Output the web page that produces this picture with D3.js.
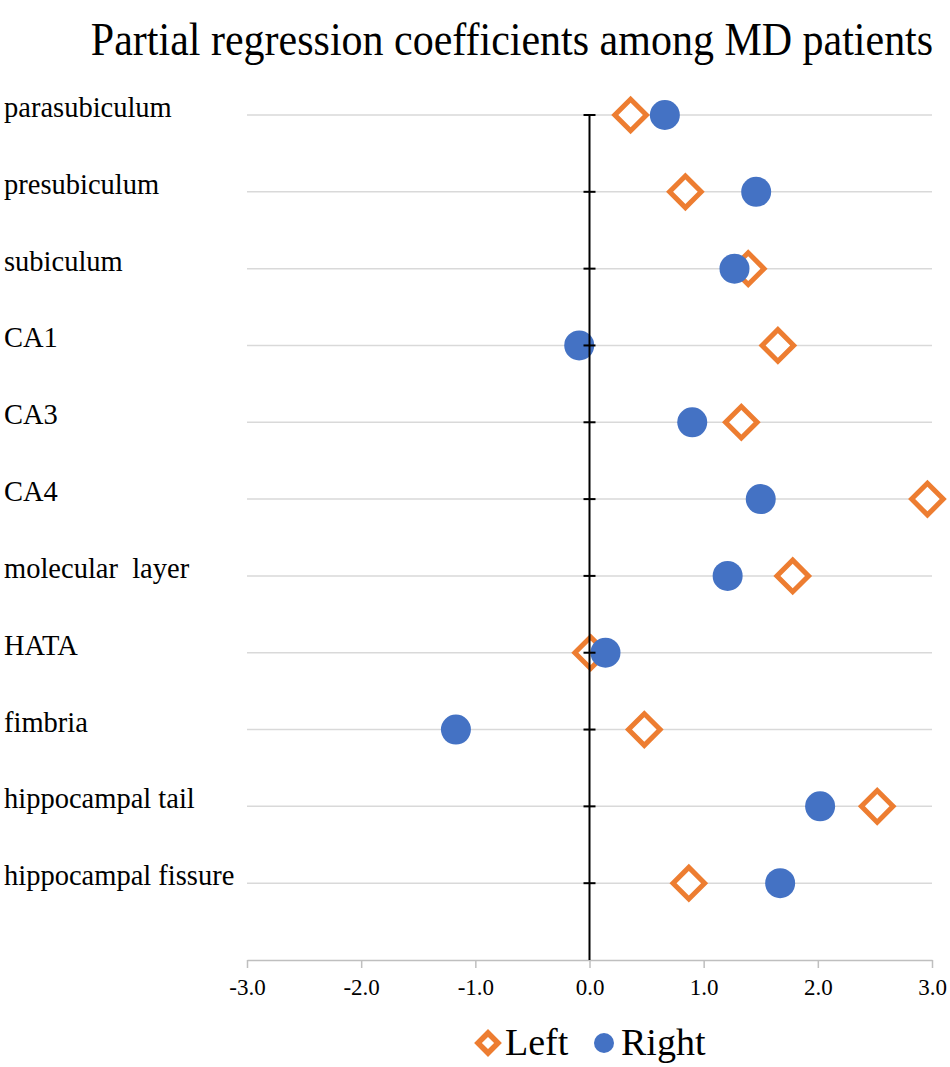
<!DOCTYPE html>
<html>
<head>
<meta charset="utf-8">
<script src="https://cdn.jsdelivr.net/npm/d3@7"></script>
<style>
  html, body { margin: 0; padding: 0; background: #fff; }
  svg { display: block; }
</style>
</head>
<body>
<svg id="chart" width="950" height="1067"></svg>
<script>
const categories = ["parasubiculum", "presubiculum", "subiculum", "CA1", "CA3", "CA4",
  "molecular  layer", "HATA", "fimbria", "hippocampal tail", "hippocampal fissure"];
const leftValues  = [0.36, 0.84, 1.39, 1.65, 1.33, 2.96, 1.78, 0.01, 0.48, 2.52, 0.87];
const rightValues = [0.66, 1.46, 1.27, -0.09, 0.90, 1.50, 1.21, 0.14, -1.17, 2.02, 1.67];
const xTicks = [-3, -2, -1, 0, 1, 2, 3];
const seriesNames = ["Left", "Right"];
const titleText = "Partial regression coefficients among MD patients";

const ORANGE = "#ED7D31", BLUE = "#4472C4";
const SERIF = "'Liberation Serif', 'Times New Roman', serif";
const svg = d3.select("#chart");

const x = d3.scaleLinear().domain([-3, 3]).range([247, 932]);
const n = categories.length;
const y = d3.scaleLinear().domain([0, n]).range([960, 115]);
const yPos = i => y(n - i);

// Title
svg.append("text")
  .attr("transform", "translate(512,55) scale(1,1.12)")
  .attr("text-anchor", "middle")
  .style("font-family", SERIF)
  .style("font-size", "42px")
  .attr("fill", "#000")
  .text(titleText);

// Gridlines
svg.append("g").selectAll("line").data(categories).join("line")
  .attr("x1", x(-3)).attr("x2", x(3))
  .attr("y1", (d, i) => yPos(i)).attr("y2", (d, i) => yPos(i))
  .attr("stroke", "#d9d9d9").attr("stroke-width", 1.5);

// Category labels
svg.append("g").selectAll("text").data(categories).join("text")
  .attr("x", 4).attr("y", (d, i) => yPos(i) + 2)
  .style("font-family", SERIF)
  .style("font-size", "28.5px")
  .style("white-space", "pre")
  .attr("fill", "#000")
  .text(d => d);

// X axis
const fmt = d => d3.format(".1f")(d).replace("\u2212", "-");
const xAxis = d3.axisBottom(x).tickValues(xTicks).tickFormat(fmt).tickSize(8).tickSizeOuter(0);
const gx = svg.append("g").attr("transform", `translate(0,${y(0)})`).call(xAxis);
gx.select(".domain").attr("stroke", "#bfbfbf").attr("stroke-width", 1.5);
gx.selectAll(".tick line").attr("stroke", "#bfbfbf").attr("stroke-width", 1.5);
gx.selectAll(".tick text")
  .attr("dy", null).attr("y", 35)
  .style("font-family", SERIF)
  .style("font-size", "23px")
  .attr("fill", "#000");

// Left series (diamonds)
const diamond = d3.symbol().type(d3.symbolSquare).size(500);
svg.append("g").selectAll("path").data(leftValues).join("path")
  .attr("d", diamond)
  .attr("transform", (d, i) => `translate(${x(d)},${yPos(i)}) rotate(45)`)
  .attr("fill", "#fff").attr("stroke", ORANGE).attr("stroke-width", 5);

// Right series (circles)
svg.append("g").selectAll("circle").data(rightValues).join("circle")
  .attr("cx", d => x(d)).attr("cy", (d, i) => yPos(i)).attr("r", 15)
  .attr("fill", BLUE);

// Zero (vertical) axis with cross ticks, drawn on top
const gy = svg.append("g").attr("transform", `translate(${x(0)},0)`);
gy.append("line").attr("x1", 0).attr("x2", 0).attr("y1", y(n)).attr("y2", y(0))
  .attr("stroke", "#000").attr("stroke-width", 2);
gy.selectAll("line.tk").data(d3.range(1, n + 1)).join("line").attr("class", "tk")
  .attr("x1", -6).attr("x2", 6).attr("y1", d => y(d)).attr("y2", d => y(d))
  .attr("stroke", "#000").attr("stroke-width", 2);

// Legend
const lg = svg.append("g");
lg.append("path").attr("d", d3.symbol().type(d3.symbolSquare).size(200))
  .attr("transform", `translate(488,1043) rotate(45)`)
  .attr("fill", "#fff").attr("stroke", ORANGE).attr("stroke-width", 5.5);
lg.append("text").attr("x", 505).attr("y", 1055)
  .style("font-family", SERIF)
  .style("font-size", "38px").text(seriesNames[0]);
lg.append("circle").attr("cx", 604).attr("cy", 1043).attr("r", 10).attr("fill", BLUE);
lg.append("text").attr("x", 621).attr("y", 1055)
  .style("font-family", SERIF)
  .style("font-size", "38px").text(seriesNames[1]);
</script>
</body>
</html>
